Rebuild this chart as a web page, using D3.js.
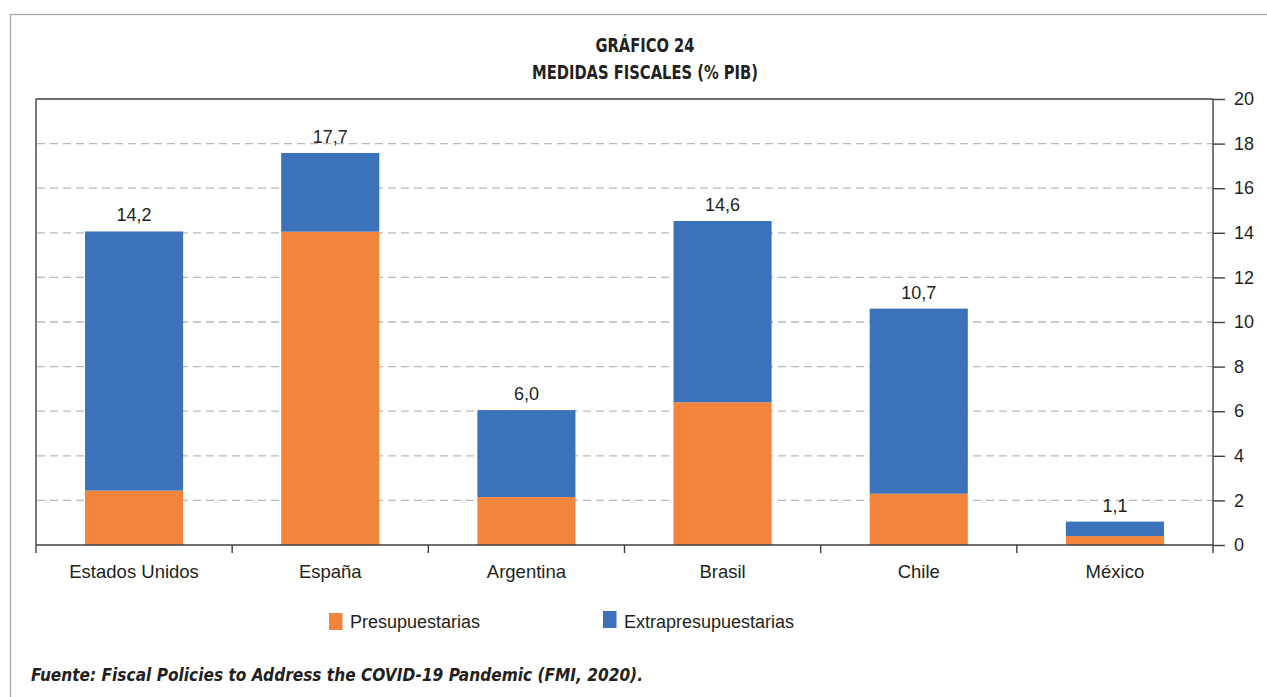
<!DOCTYPE html>
<html>
<head>
<meta charset="utf-8">
<script src="https://cdnjs.cloudflare.com/ajax/libs/d3/7.8.5/d3.min.js"></script>
<style>
  body { margin: 0; background: #fff; }
  svg text { fill: #231f20; font-family: "Liberation Sans", Arial, Helvetica, sans-serif; }
  .narrow { font-family: "Liberation Sans Narrow", "DejaVu Sans Condensed", "Liberation Sans", sans-serif; }
</style>
</head>
<body>
<svg id="chart" width="1267" height="697"></svg>
<script>
// data
var categories = ["Estados Unidos", "España", "Argentina", "Brasil", "Chile", "México"];
var presupuestarias = [2.44, 14.05, 2.15, 6.4, 2.3, 0.4];
var extrapresupuestarias = [11.62, 3.53, 3.9, 8.13, 8.3, 0.65];
var totalLabels = ["14,2", "17,7", "6,0", "14,6", "10,7", "1,1"];
var yTicks = [0, 2, 4, 6, 8, 10, 12, 14, 16, 18, 20];
var seriesNames = ["Presupuestarias", "Extrapresupuestarias"];
var colors = ["#f2843c", "#3c72bb"];

var svg = d3.select("#chart");

//outer frame, only left and top visible
svg.append("rect")
  .attr("x", 10.5).attr("y", 14.5)
  .attr("width", 1300).attr("height", 720)
  .attr("fill", "none")
  .attr("stroke", "#a8a8a8")
  .attr("stroke-width", 1.3);

//titles
svg.append("text")
  .attr("class", "narrow")
  .attr("x", 645).attr("y", 51.5)
  .attr("text-anchor", "middle")
  .style("font-size", "19px").style("font-weight", "bold")
  .attr("textLength", 99).attr("lengthAdjust", "spacingAndGlyphs")
  .text("GRÁFICO 24");

svg.append("text")
  .attr("class", "narrow")
  .attr("x", 645).attr("y", 79)
  .attr("text-anchor", "middle")
  .style("font-size", "19px").style("font-weight", "bold")
  .attr("textLength", 226).attr("lengthAdjust", "spacingAndGlyphs")
  .text("MEDIDAS FISCALES (% PIB)");

//scales
var x = d3.scaleBand()
  .domain(categories)
  .range([36, 1213])
  .paddingInner(0.5)
  .paddingOuter(0.25);

var y = d3.scaleLinear()
  .domain([0, 20])
  .range([545, 99]);

//stack the two series
var rows = categories.map(function(c, i) {
  return { cat: c, Presupuestarias: presupuestarias[i], Extrapresupuestarias: extrapresupuestarias[i], label: totalLabels[i] };
});
var stacked = d3.stack().keys(seriesNames)(rows);

//dashed gridlines
svg.append("g")
  .selectAll("line")
  .data(yTicks.filter(d => d > 0 && d < 20))
  .enter().append("line")
  .attr("x1", 37).attr("x2", 1212)
  .attr("y1", d => y(d)).attr("y2", d => y(d))
  .attr("stroke", "#b9b9bb")
  .attr("stroke-width", 1.3)
  .attr("stroke-dasharray", "8,5");

//bars
svg.append("g")
  .selectAll("g")
  .data(stacked)
  .enter().append("g")
  .attr("fill", (d, i) => colors[i])
  .selectAll("rect")
  .data(d => d)
  .enter().append("rect")
  .attr("x", d => x(d.data.cat))
  .attr("width", x.bandwidth())
  .attr("y", d => y(d[1]))
  .attr("height", d => y(d[0]) - y(d[1]));

//value labels above the bars
svg.append("g")
  .selectAll("text")
  .data(stacked[1])
  .enter().append("text")
  .attr("x", d => x(d.data.cat) + x.bandwidth() / 2)
  .attr("y", d => y(d[1]) - 10)
  .attr("text-anchor", "middle")
  .style("font-size", "18px")
  .text(d => d.data.label);

//plot frame: left and top lines
var frame = svg.append("g").attr("stroke", "#3f3f3f").attr("stroke-width", 1.4);
frame.append("line").attr("x1", 36).attr("x2", 36).attr("y1", y(20)).attr("y2", y(0) + 8);
frame.append("line").attr("x1", 36).attr("x2", 1213).attr("y1", y(20)).attr("y2", y(20));
frame.append("line").attr("x1", 36).attr("x2", 1213).attr("y1", y(0)).attr("y2", y(0));
frame.append("line").attr("x1", 1213).attr("x2", 1213).attr("y1", y(20)).attr("y2", y(0) + 8);

//category boundary ticks
var step = x.step();
frame.selectAll(".bt")
  .data(d3.range(1, categories.length))
  .enter().append("line")
  .attr("x1", i => 36 + i * step).attr("x2", i => 36 + i * step)
  .attr("y1", y(0)).attr("y2", y(0) + 8);

//right axis
var yAxis = svg.append("g")
  .attr("transform", "translate(1213,0)")
  .call(d3.axisRight(y).tickValues(yTicks).tickSize(12).tickPadding(9).tickFormat(d3.format("d")));
yAxis.select(".domain").remove();
yAxis.selectAll(".tick line").attr("stroke", "#3f3f3f").attr("stroke-width", 1.4);
yAxis.selectAll(".tick text")
  .style("font-size", "18px")
  .style("font-family", "'Liberation Sans', Arial, sans-serif")
  .attr("fill", "#231f20");

//category labels
svg.append("g")
  .selectAll("text")
  .data(categories)
  .enter().append("text")
  .attr("x", d => x(d) + x.bandwidth() / 2)
  .attr("y", 578)
  .attr("text-anchor", "middle")
  .style("font-size", "18.5px")
  .text(d => d);

//legend
var legendX = [329, 603];
var legendY = [613, 611];
var legend = svg.append("g")
  .selectAll("g")
  .data(seriesNames)
  .enter().append("g");
legend.append("rect")
  .attr("x", (d, i) => legendX[i])
  .attr("y", (d, i) => legendY[i])
  .attr("width", 13.5).attr("height", 17)
  .attr("fill", (d, i) => colors[i]);
legend.append("text")
  .attr("x", (d, i) => legendX[i] + 21)
  .attr("y", 628)
  .style("font-size", "18px")
  .text(d => d);

//source note
svg.append("text")
  .attr("class", "narrow")
  .attr("x", 31).attr("y", 681)
  .style("font-size", "18px")
  .style("font-weight", "bold")
  .style("font-style", "italic")
  .attr("textLength", 612).attr("lengthAdjust", "spacingAndGlyphs")
  .text("Fuente: Fiscal Policies to Address the COVID-19 Pandemic (FMI, 2020).");
</script>
</body>
</html>
